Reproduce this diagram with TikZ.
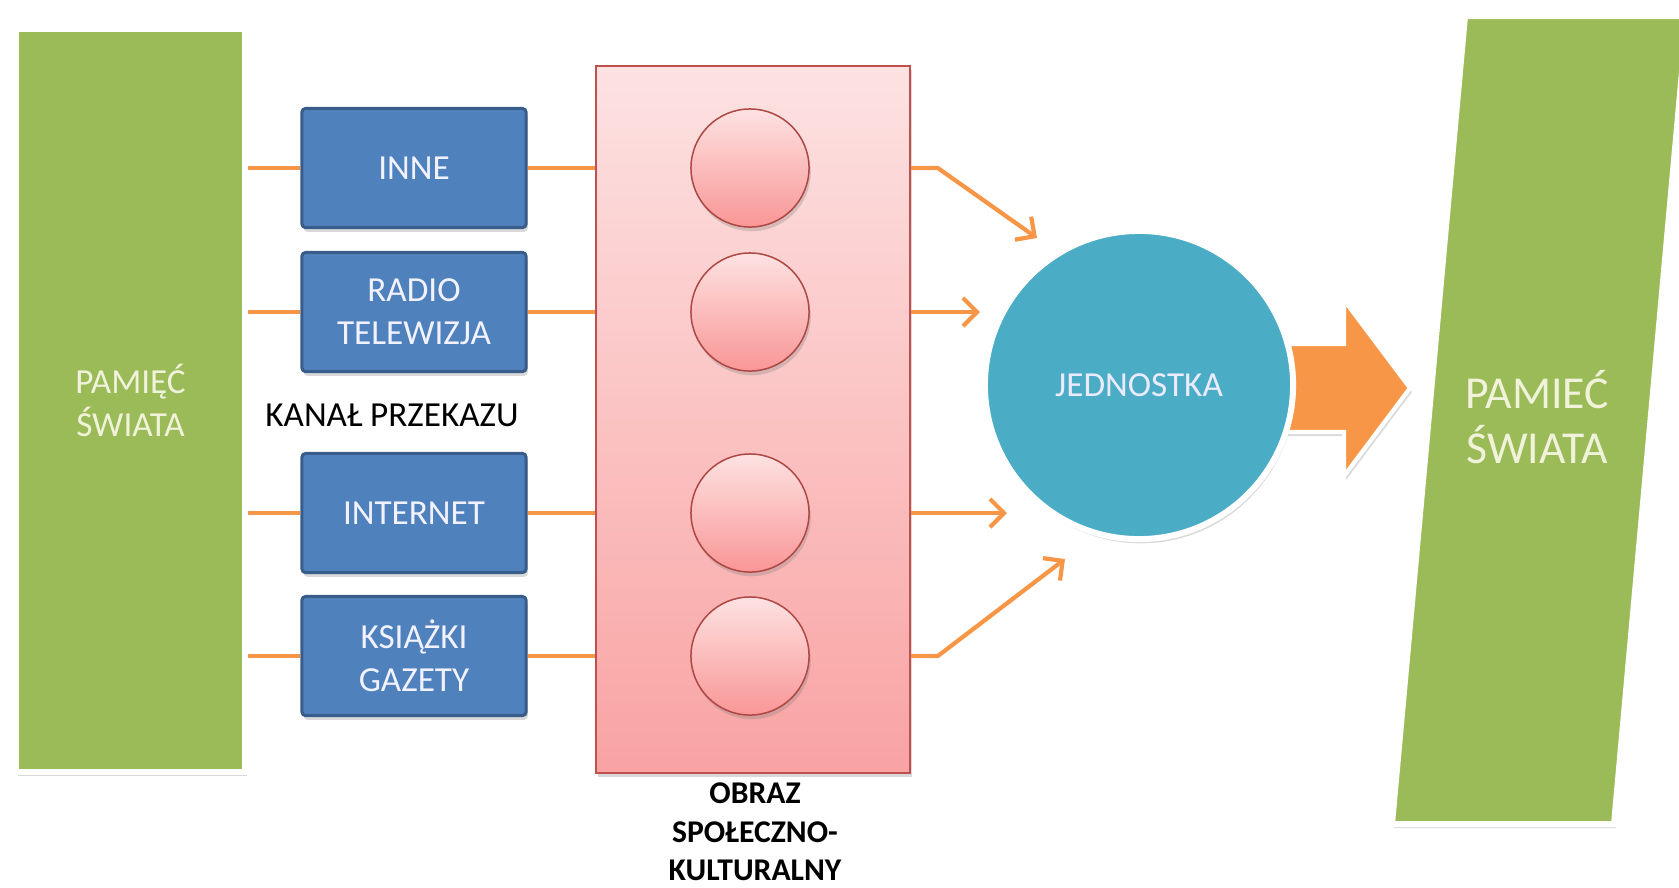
\documentclass[tikz,border=0pt]{standalone}
\usepackage{fontspec}
\setmainfont{Carlito}
\usetikzlibrary{arrows.meta,shadows}

\definecolor{memGreen}{RGB}{155,187,89}
\definecolor{boxBlue}{RGB}{79,129,189}
\definecolor{boxBorder}{RGB}{56,93,138}
\definecolor{linkOrange}{RGB}{247,150,70}
\definecolor{pinkTop}{RGB}{253,226,226}
\definecolor{pinkBottom}{RGB}{249,163,163}
\definecolor{pinkBorder}{RGB}{192,80,77}
\definecolor{unitBlue}{RGB}{75,172,198}
\definecolor{paleText}{RGB}{240,242,218}

\begin{document}
\begin{tikzpicture}[
    x=0.01cm, y=-0.01cm,
    every node/.style={align=center, font=\fontsize{10}{12.2}\selectfont},
    softShadow/.style={drop shadow={opacity=0.3, shadow xshift=0.5pt, shadow yshift=-1.2pt}},
    memory/.style={rectangle, fill=memGreen, draw=white, line width=0.06cm, minimum width=2.29cm, minimum height=7.43cm, text=paleText, softShadow},
    channel/.style={rectangle, fill=boxBlue, draw=boxBorder, line width=0.03cm, rounded corners=1pt, minimum width=2.24cm, minimum height=1.19cm, text=white!95!blue, softShadow},
    imageBox/.style={rectangle, top color=pinkTop, bottom color=pinkBottom, draw=pinkBorder, line width=0.015cm, minimum width=3.14cm, minimum height=7.07cm, softShadow},
    bead/.style={circle, top color=pinkTop, bottom color=pinkBottom!92!red, draw=pinkBorder!90!black, line width=0.015cm, minimum size=1.18cm, softShadow},
    unit/.style={circle, fill=unitBlue, draw=white, line width=0.06cm, minimum size=3.08cm, text=white!92!blue, softShadow},
    link/.style={draw=linkOrange, line width=1.2pt},
    flow/.style={link, -{Straight Barb[length=4pt,width=8pt]}},
    bigArrow/.style={fill=linkOrange, draw=white, line width=1.2pt, softShadow}
]
\useasboundingbox (0,0) rectangle (1679,887);

% Nodes
\node[memory] (memL) at (130.5,400.5) {PAMIĘĆ\\ŚWIATA};
\node[channel] (ch1) at (414,168) {INNE};
\node[channel] (ch2) at (414,312) {RADIO\\TELEWIZJA};
\node[channel] (ch3) at (414,513) {INTERNET};
\node[channel] (ch4) at (414,656) {KSIĄŻKI\\GAZETY};
\node (chLabel) at (392,415) {KANAŁ PRZEKAZU};

\node[imageBox] (img) at (753,419.5) {};
\node[bead] (b1) at (750,168) {};
\node[bead] (b2) at (750,312) {};
\node[bead] (b3) at (750,513) {};
\node[bead] (b4) at (750,656) {};
\node[font=\bfseries\fontsize{9}{11}\selectfont] (imgLabel) at (755,832) {OBRAZ\\SPOŁECZNO-\\KULTURALNY};

% big arrow and the second memory
\draw[bigArrow] (1250,344) -- (1344,344) -- (1344,300) -- (1410,388) -- (1344,476) -- (1344,432) -- (1250,432) -- cycle;
\node[unit] (jed) at (1139,385) {JEDNOSTKA};

\begin{scope}
\clip (0,0) rectangle (1679,887);
\draw[fill=memGreen, draw=white, line width=0.06cm, softShadow] (1465,16) -- (1687,16) -- (1614,824) -- (1392,824) -- cycle;
\end{scope}
\node[text=paleText, font=\fontsize{13}{15.5}\selectfont] (memR) at (1537,417) {PAMIEĆ\\ŚWIATA};

\coordinate (t1) at (1037,238);
\coordinate (t2) at (980,312);
\coordinate (t3) at (1007,513);
\coordinate (t4) at (1065,559);

% Lines
\foreach \c in {ch1,ch2,ch3,ch4} {
  \draw[link] (memL.east |- \c.west) -- (\c.west);
  \draw[link] (\c.east) -- (img.west |- \c.east);
}

% Arrows
\draw[flow] (img.east |- b1) -- ++(27,0) -- (t1);
\draw[flow] (img.east |- b2) -- (t2);
\draw[flow] (img.east |- b3) -- (t3);
\draw[flow] (img.east |- b4) -- ++(27,0) -- (t4);

\end{tikzpicture}
\end{document}
